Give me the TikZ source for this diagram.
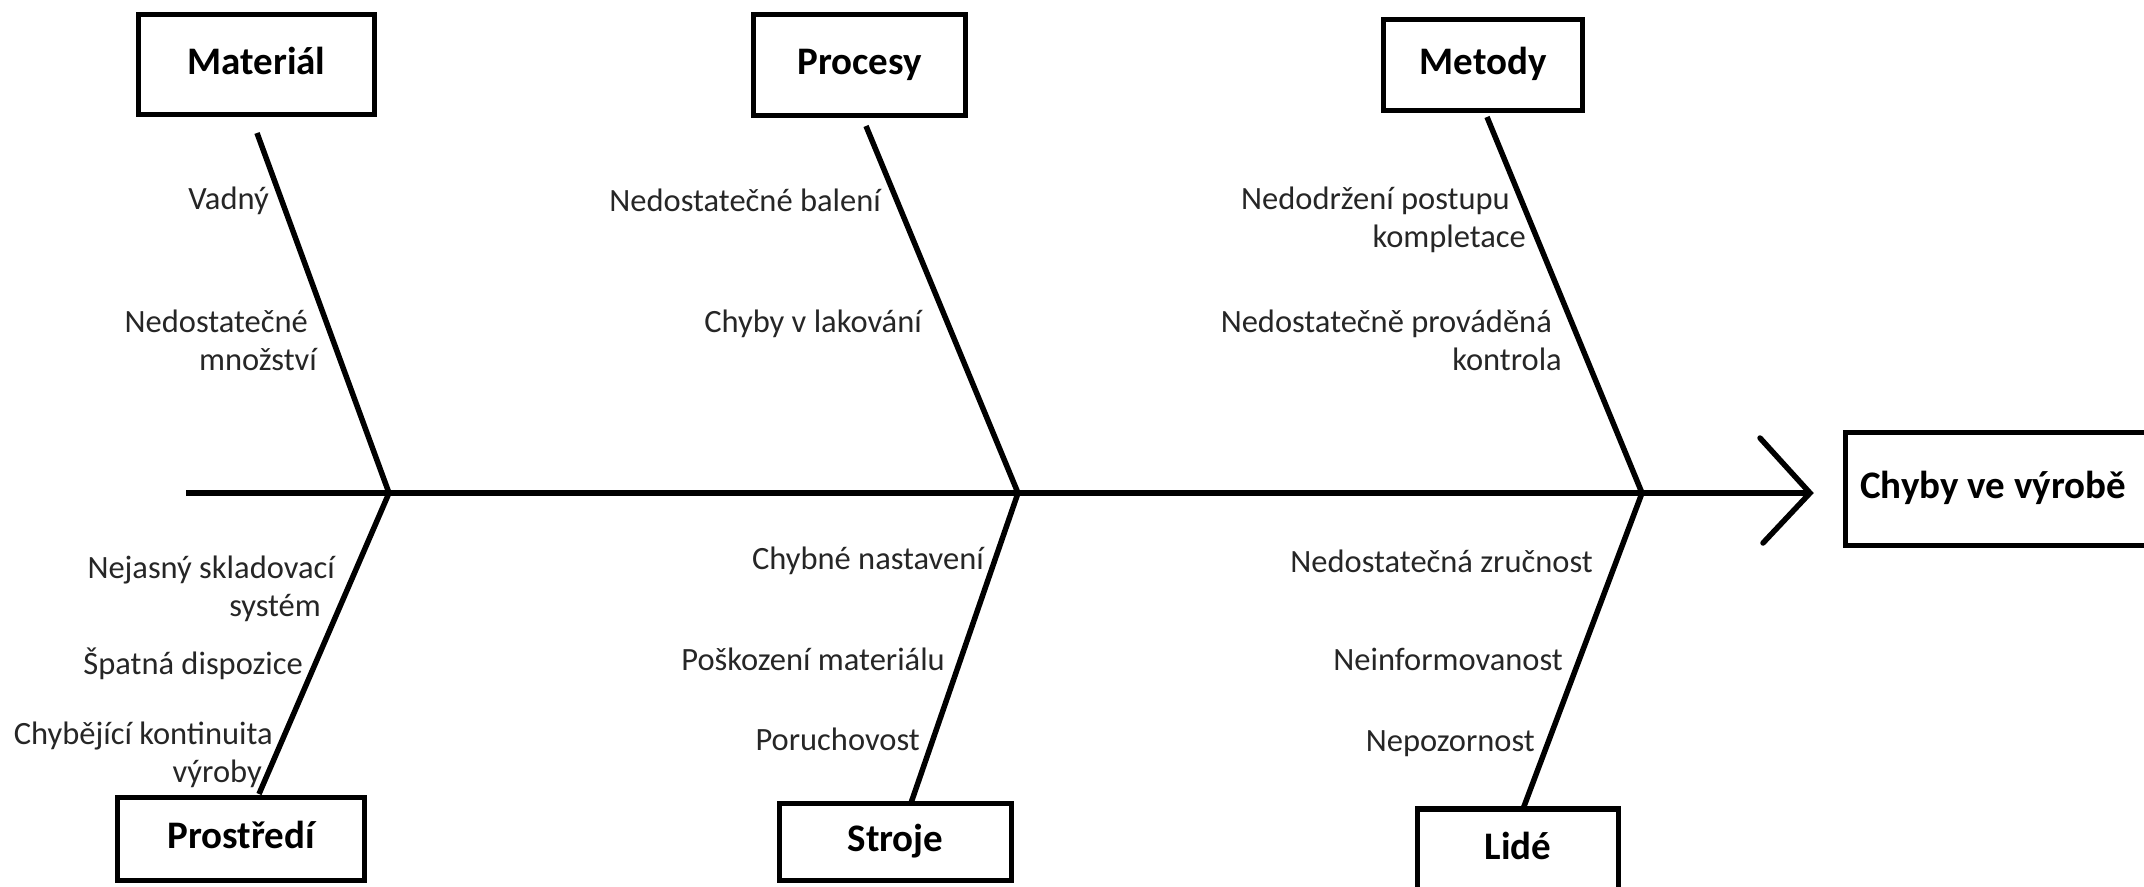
\documentclass[tikz,border=0pt]{standalone}
\usepackage{fontspec}
\setmainfont{Carlito}
\begin{document}
\begin{tikzpicture}[x=1pt,y=-1pt,
  box/.style={draw, line width=5.5pt, inner sep=0pt, font=\fontsize{39}{44}\selectfont\bfseries, text height=28pt, text depth=9pt},
  lbl/.style={inner sep=0pt, anchor=base east, align=right, font=\fontsize{32.5}{38}\selectfont, text=black!85},
  bone/.style={line width=5.5pt},
]
\useasboundingbox (0,0) rectangle (2144,886);
\fill[white] (0,0) rectangle (2144,886);
\clip (0,0) rectangle (2144,886);

% category boxes
\node[box, minimum width=236pt, minimum height=100pt] (mat) at (256.5,64.5) {Materiál};
\node[box, minimum width=212pt, minimum height=101pt] (pro) at (859.5,65) {Procesy};
\node[box, minimum width=199pt, minimum height=91pt] (met) at (1483,65) {Metody};
\node[box, minimum width=247pt, minimum height=83pt] (env) at (241,839) {Prostředí};
\node[box, minimum width=232pt, minimum height=77pt] (str) at (895.5,842) {Stroje};
\node[box, minimum width=201pt, minimum height=82pt] (lid) at (1518,850) {Lidé};
% effect box
\node[box, anchor=west, minimum height=113pt, text width=330pt, inner xsep=15pt, align=flush left] (eff) at (1842.5,489) {Chyby ve výrobě};

% coordinates
\coordinate (tail) at (186,493);
\coordinate (head) at (1810,493);
\coordinate (barbU) at (1760,438);
\coordinate (barbL) at (1763,543);
\coordinate (matT) at (257,133);
\coordinate (J1) at (389,493);
\coordinate (envT) at (259,794);
\coordinate (proT) at (866,126);
\coordinate (J2) at (1018,493);
\coordinate (strT) at (911,803);
\coordinate (metT) at (1487,117);
\coordinate (J3) at (1642,493);
\coordinate (lidT) at (1523,809);

% spine and head
\draw[bone] (tail) -- (head);
\draw[bone, line cap=round] (barbU) -- (head) -- (barbL);

% bones
\draw[bone] (matT) -- (J1) -- (envT);
\draw[bone] (proT) -- (J2) -- (strT);
\draw[bone] (metT) -- (J3) -- (lidT);

% cause labels (base anchor = baseline of the last line)
\node[lbl] (l1) at (269,209) {Vadný};
\node[lbl] (l2) at (317,370) {Nedostatečné\hspace*{9pt}\\množství};
\node[lbl] (l3) at (881,211) {Nedostatečné balení};
\node[lbl] (l4) at (922,332) {Chyby v lakování};
\node[lbl] (l5) at (1526,247) {Nedodržení postupu\hspace*{16pt}\\kompletace};
\node[lbl] (l6) at (1562,370) {Nedostatečně prováděná\hspace*{10pt}\\kontrola};
\node[lbl] (l7) at (335,616) {Nejasný skladovací\\systém\hspace*{14pt}};
\node[lbl] (l8) at (303,674) {Špatná dispozice};
\node[lbl] (l9) at (273,782) {Chybějící kontinuita\\výroby\hspace*{11pt}};
\node[lbl] (l10) at (984,569) {Chybné nastavení};
\node[lbl] (l11) at (945,670) {Poškození materiálu};
\node[lbl] (l12) at (920,750) {Poruchovost};
\node[lbl] (l13) at (1593,572) {Nedostatečná zručnost};
\node[lbl] (l14) at (1563,670) {Neinformovanost};
\node[lbl] (l15) at (1535,751) {Nepozornost};
\end{tikzpicture}
\end{document}
